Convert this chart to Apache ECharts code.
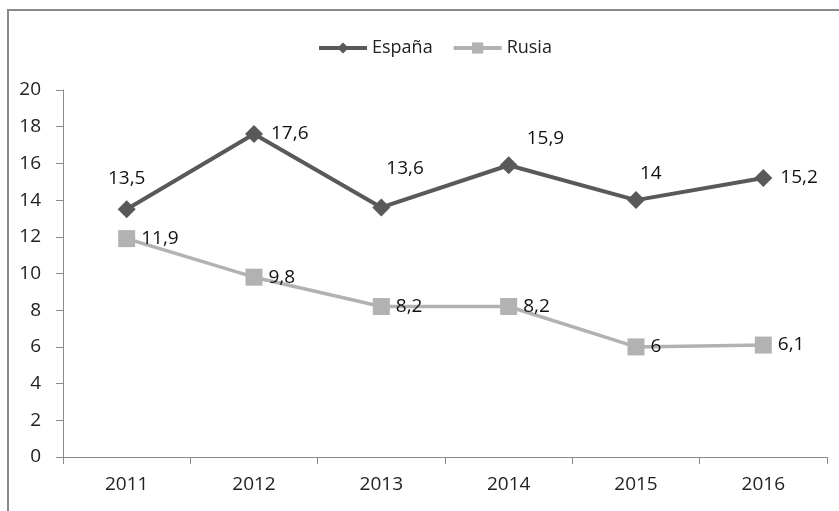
<!DOCTYPE html>
<html><head><meta charset="utf-8">
<script src="https://cdn.jsdelivr.net/npm/echarts@6/dist/echarts.min.js"></script>
<style>html,body{margin:0;padding:0;background:#fff}#c{width:839px;height:511px}</style>
</head><body><div id="c"></div>
<script>
var categories = ['2011','2012','2013','2014','2015','2016'];
var espana = [13.5, 17.6, 13.6, 15.9, 14, 15.2];
var rusia = [11.9, 9.8, 8.2, 8.2, 6, 6.1];
var espanaLabelPos = ['top','right',[14,-30],[27,-18],[13,-18],'right'];
var yTicks = [0,2,4,6,8,10,12,14,16,18,20];

var FONT = '"Open Sans", sans-serif';
function fmt(v){ return String(v).replace('.', ','); }
var chart = echarts.init(document.getElementById('c'));
var espData = espana.map(function(v,i){
  var p = espanaLabelPos[i];
  var lab = {};
  if (p === 'top') lab = {position:'top', distance:12};
  else if (p === 'right') lab = {position:'right', distance:8};
  else lab = {position:p, align:'left', verticalAlign:'middle'};
  return {value:v, label:lab};
});
chart.setOption({
  animation:false,
  graphic:[{type:'rect', shape:{x:8,y:10,width:900,height:600}, style:{fill:'none', stroke:'#8a8a8a', lineWidth:2}}],
  legend:{top:34, left:312, itemWidth:48, itemHeight:14, itemGap:19,
    textStyle:{fontFamily:FONT, fontSize:18, color:'#222'},
    data:[{name:'España', lineStyle:{width:4}}, {name:'Rusia', lineStyle:{width:4}}]},
  grid:{left:63, right:12, top:90, bottom:54},
  xAxis:{type:'category', data:categories, boundaryGap:true,
    axisLine:{lineStyle:{color:'#8c8c8c', width:1}},
    axisTick:{show:true, length:7, lineStyle:{color:'#8c8c8c'}},
    axisLabel:{fontFamily:FONT, fontSize:19, color:'#222', margin:18}},
  yAxis:{type:'value', min:0, max:20, interval:2,
    axisLine:{show:true, lineStyle:{color:'#8c8c8c', width:1}},
    axisTick:{show:true, length:7, lineStyle:{color:'#8c8c8c'}},
    splitLine:{show:false},
    axisLabel:{fontFamily:FONT, fontSize:19, color:'#222', margin:22,
      formatter:function(v){ return yTicks.indexOf(v)>=0 ? String(v) : ''; }}},
  series:[
    {name:'España', type:'line', data:espData, symbol:'diamond', symbolSize:18,
      lineStyle:{color:'#595959', width:4}, itemStyle:{color:'#595959'},
      label:{show:true, fontFamily:FONT, fontSize:19, color:'#111', formatter:function(p){return fmt(p.value);}}},
    {name:'Rusia', type:'line', data:rusia, symbol:'rect', symbolSize:17,
      lineStyle:{color:'#b2b2b2', width:3.5}, itemStyle:{color:'#b2b2b2'},
      label:{show:true, position:'right', distance:6, fontFamily:FONT, fontSize:19, color:'#111', formatter:function(p){return fmt(p.value);}}}
  ]
});
</script></body></html>
